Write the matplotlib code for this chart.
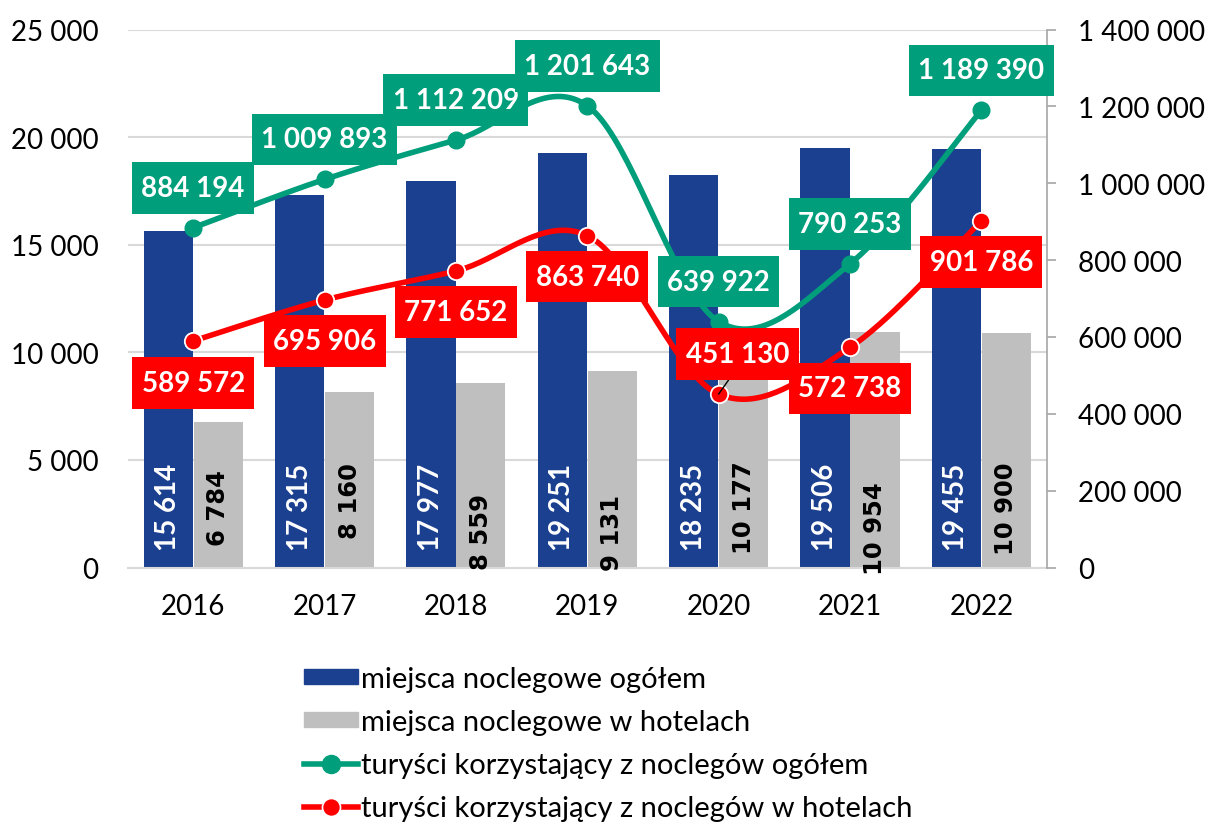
import numpy as np
import matplotlib
matplotlib.use("Agg")
import matplotlib.pyplot as plt
from matplotlib.patches import Patch
from matplotlib.lines import Line2D
from matplotlib.path import Path
from matplotlib.ticker import FuncFormatter, MultipleLocator

plt.rcParams['font.family'] = ['Lato', 'DejaVu Sans']

# ---------------- data ----------------
years = ['2016', '2017', '2018', '2019', '2020', '2021', '2022']
beds_total = [15614, 17315, 17977, 19251, 18235, 19506, 19455]
beds_hotels = [6784, 8160, 8559, 9131, 10177, 10954, 10900]
tourists_total = [884194, 1009893, 1112209, 1201643, 639922, 790253, 1189390]
tourists_hotels = [589572, 695906, 771652, 863740, 451130, 572738, 901786]

legend_labels = ['miejsca noclegowe ogółem',
                 'miejsca noclegowe w hotelach',
                 'turyści korzystający z noclegów ogółem',
                 'turyści korzystający z noclegów w hotelach']

# ---------------- styles / layout ----------------
C_BLUE = '#1B4090'
C_GRAY = '#BFBFBF'
C_GREEN = '#009E7B'
C_RED = '#FF0000'
C_GRID = '#D9D9D9'

# label offsets in pixels (dx, dy) relative to points
green_offsets = [(0, 40)] * 7
red_offsets = [(0, -42), (0, -41), (0, -41), (0, -41), (19, 40), (0, -41), (0, -41)]
gray_label_lift_px = [60, 67, 37, 36, 61, 40, 60]
blue_label_lift_px = 18


def fmt(v):
    return f"{v:,.0f}".replace(',', ' ')


def smooth(xs, ys, n=40):
    P = np.column_stack([np.asarray(xs, float), np.asarray(ys, float)])
    out = []
    for i in range(len(P) - 1):
        p0 = P[i - 1] if i > 0 else P[i]
        p1, p2 = P[i], P[i + 1]
        p3 = P[i + 2] if i + 2 < len(P) else P[i + 1]
        c1 = p1 + (p2 - p0) / 6.0
        c2 = p2 - (p3 - p1) / 6.0
        t = np.linspace(0, 1, n)[:, None]
        seg = (1 - t) ** 3 * p1 + 3 * (1 - t) ** 2 * t * c1 + 3 * (1 - t) * t ** 2 * c2 + t ** 3 * p2
        out.append(seg if i == 0 else seg[1:])
    S = np.vstack(out)
    return S[:, 0], S[:, 1]


def label_box(x0, y0, width, height, mutation_size):
    px = 0.34 * mutation_size
    py = 0.46 * mutation_size
    x0, y0 = x0 - px, y0 - py
    x1, y1 = x0 + width + 2 * px, y0 + height + 2 * py
    return Path([(x0, y0), (x1, y0), (x1, y1), (x0, y1), (x0, y0)], closed=True)


fig = plt.figure(figsize=(12.08, 8.29), dpi=100)
ax = fig.add_axes([0.10555, 0.31423, 0.7612, 0.64897])
ax2 = ax.twinx()

x = np.arange(len(years))
bw = 0.375
off = 0.19

ax.bar(x - off, beds_total, width=bw, color=C_BLUE, zorder=2)
ax.bar(x + off, beds_hotels, width=bw, color=C_GRAY, zorder=2)

ax.set_xlim(-0.5, len(years) - 0.5)
ax.set_ylim(0, 25000)
ax.yaxis.set_major_locator(MultipleLocator(5000))
ax.yaxis.set_major_formatter(FuncFormatter(lambda v, p: fmt(v)))
ax.set_xticks(x)
ax.set_xticklabels(years)
ax.set_axisbelow(True)
ax.yaxis.grid(True, color=C_GRID, lw=1.5)
ax.tick_params(axis='y', length=0, pad=21, labelsize=20)
ax.tick_params(axis='x', length=0, pad=18, labelsize=20)
for s in ['top', 'left', 'right']:
    ax.spines[s].set_visible(False)
ax.spines['bottom'].set_color(C_GRID)
ax.spines['bottom'].set_linewidth(1.5)

# bar labels
for i in range(len(years)):
    ax.annotate(fmt(beds_total[i]), xy=(x[i] - off, 0), xytext=(0, blue_label_lift_px),
                textcoords='offset pixels', rotation=90, ha='center', va='bottom',
                color='white', fontsize=20, fontweight='bold', zorder=3)
    ax.annotate(fmt(beds_hotels[i]), xy=(x[i] + off, 0), xytext=(0, gray_label_lift_px[i]),
                textcoords='offset pixels', rotation=90, ha='center', va='center',
                color='black', fontsize=17.5, fontweight='bold', family='DejaVu Sans', zorder=3)

# lines
gx, gy = smooth(x, tourists_total)
rx, ry = smooth(x, tourists_hotels)
ax2.plot(gx, gy, color=C_GREEN, lw=4, zorder=3, solid_capstyle='round')
ax2.plot(x, tourists_total, 'o', color=C_GREEN, ms=12, mec=C_GREEN, zorder=4)
ax2.plot(rx, ry, color=C_RED, lw=4, zorder=3, solid_capstyle='round')
ax2.plot(x, tourists_hotels, 'o', color=C_RED, ms=12.5, mec='white', mew=1.3, zorder=4)

ax2.set_ylim(0, 1400000)
ax2.yaxis.set_major_locator(MultipleLocator(200000))
ax2.yaxis.set_major_formatter(FuncFormatter(lambda v, p: fmt(v)))
ax2.tick_params(axis='y', direction='out', length=6.5, width=1.2, color='#A6A6A6', pad=16, labelsize=20)
for s in ['top', 'left', 'bottom']:
    ax2.spines[s].set_visible(False)
ax2.spines['right'].set_color('#A6A6A6')
ax2.spines['right'].set_linewidth(1.2)

for i in range(len(years)):
    dx, dy = green_offsets[i]
    ax2.annotate(fmt(tourists_total[i]), xy=(x[i], tourists_total[i]), xytext=(dx, dy),
                 textcoords='offset pixels', ha='center', va='center', color='white',
                 fontsize=20, fontweight='bold',
                 bbox=dict(boxstyle=label_box, fc=C_GREEN, ec='none'), zorder=10)
for i in range(len(years)):
    dx, dy = red_offsets[i]
    kw = {}
    if dx != 0:
        kw['arrowprops'] = dict(arrowstyle='-', color='black', lw=1, relpos=(0.5, 0),
                                shrinkA=0, shrinkB=0)
    ax2.annotate(fmt(tourists_hotels[i]), xy=(x[i], tourists_hotels[i]), xytext=(dx, dy),
                 textcoords='offset pixels', ha='center', va='center', color='white',
                 fontsize=20, fontweight='bold',
                 bbox=dict(boxstyle=label_box, fc=C_RED, ec='none'), zorder=11, **kw)

# legend
handles = [Patch(color=C_BLUE), Patch(color=C_GRAY),
           Line2D([], [], color=C_GREEN, lw=4, marker='o', ms=13, mec=C_GREEN),
           Line2D([], [], color=C_RED, lw=4, marker='o', ms=13, mec='white', mew=1.2)]
fig.legend(handles, legend_labels, loc='upper left', bbox_to_anchor=(304 / 1208, 1 - 667 / 829),
           frameon=False, fontsize=21, handlelength=1.85, handleheight=0.45,
           handletextpad=0.12, labelspacing=0.58, borderpad=0, borderaxespad=0)

fig.savefig('out.png', dpi=100)
